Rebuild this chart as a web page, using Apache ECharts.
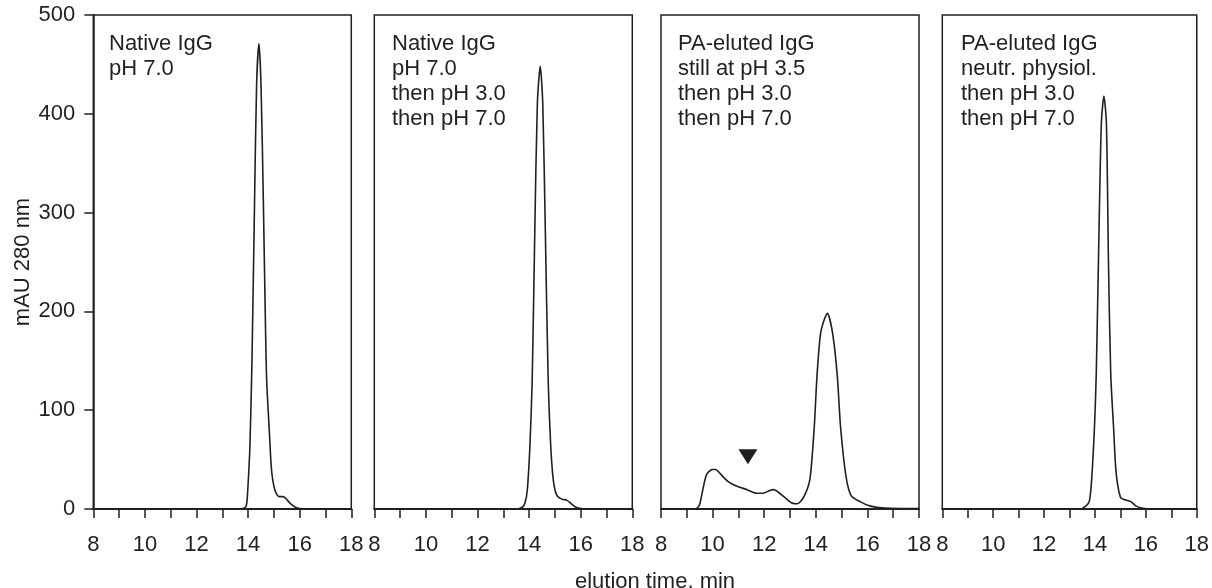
<!DOCTYPE html>
<html>
<head>
<meta charset="utf-8">
<title>IgG elution profiles</title>
<script src="https://cdn.jsdelivr.net/npm/echarts@6/dist/echarts.min.js"></script>
<style>
	html,body{margin:0;padding:0;background:#fff;}
	#chart{width:1212px;height:588px;}
</style>
</head>
<body>
<div id="chart"></div>
<script>
// panel captions
var panelText = [
	"Native IgG\npH 7.0",
	"Native IgG\npH 7.0\nthen pH 3.0\nthen pH 7.0",
	"PA-eluted IgG\nstill at pH 3.5\nthen pH 3.0\nthen pH 7.0",
	"PA-eluted IgG\nneutr. physiol.\nthen pH 3.0\nthen pH 7.0"
];
var xTicks = [8, 10, 12, 14, 16, 18];
var yTicks = [0, 100, 200, 300, 400, 500];

// [elution time (min), mAU 280 nm]
var nativeA = [[8,0],[13.5,0],[13.8,0.5],[13.9,2],[13.95,6],[14.0,25],[14.07,63],[14.15,150],[14.25,310],[14.33,430],[14.42,471],[14.5,430],[14.59,313],[14.67,190],[14.72,130],[14.82,80],[14.91,39],[15.04,19],[15.2,12.5],[15.35,12.5],[15.45,11],[15.62,6],[15.82,2],[16.0,0.5],[16.5,0],[18,0]];
var nativeB = [[8,0],[13.5,0],[13.75,2],[13.84,6],[13.93,19],[14.03,63],[14.12,130],[14.22,280],[14.32,410],[14.43,448],[14.53,410],[14.63,280],[14.74,130],[14.84,63],[14.94,29],[15.07,14],[15.26,10],[15.46,9],[15.65,5],[15.84,1.5],[16.1,0.3],[18,0]];
var paStill = [[8,0],[9.3,0],[9.4,1],[9.5,4.6],[9.64,22],[9.77,35],[9.98,40],[10.12,40],[10.32,35],[10.59,28],[10.94,23],[11.34,19.6],[11.69,16],[11.96,16],[12.2,18.5],[12.35,19.6],[12.5,18],[12.78,12],[13.05,6.4],[13.28,5.3],[13.53,12],[13.77,30],[13.94,83],[14.05,136],[14.2,180],[14.45,198],[14.65,178],[14.83,136],[14.96,83],[15.17,33],[15.37,13.5],[15.71,7.5],[16.12,2.9],[16.67,1],[18,0.5]];
var paNeutr = [[8,0],[13.4,0],[13.64,2.9],[13.78,8],[13.87,30],[13.98,83],[14.05,136],[14.15,270],[14.25,390],[14.35,418],[14.45,390],[14.53,250],[14.62,136],[14.73,83],[14.83,37],[15.0,12],[15.21,9],[15.41,7.5],[15.62,2.9],[15.89,0.7],[16.2,0],[18,0]];
var arrowMark = [[11.37, 53]];

var traces = [nativeA, nativeB, paStill, paNeutr];
var ink = "#231f20";
var fontFam = "'Liberation Sans', Arial, Helvetica, sans-serif";
var panelLeft = [93.3, 374.3, 661, 942.3];
var textLeft = [109, 392, 678, 961];

function buildOption(){
	var grids = [], xAxes = [], yAxes = [], series = [], titles = [];
	for(var i = 0; i < traces.length; i++){
		grids.push({
			left: panelLeft[i],
			width: 258,
			top: 15,
			height: 494,
			show: true,
			borderColor: ink,
			borderWidth: 1.5
		});
		xAxes.push({
			type: "value",
			gridIndex: i,
			min: xTicks[0],
			max: xTicks[xTicks.length - 1],
			interval: 2,
			axisLine: {show: true, lineStyle: {color: ink, width: 2}},
			axisTick: {show: true, length: 9, lineStyle: {color: ink, width: 1.5}},
			minorTick: {show: true, splitNumber: 2, length: 9, lineStyle: {color: ink, width: 1.5}},
			splitLine: {show: false},
			axisLabel: {
				margin: 25,
				fontSize: 22,
				fontFamily: fontFam,
				color: ink,
				showMinLabel: true,
				showMaxLabel: true
			}
		});
		yAxes.push({
			type: "value",
			gridIndex: i,
			min: yTicks[0],
			max: yTicks[yTicks.length - 1],
			interval: 100,
			name: i === 0 ? "mAU 280 nm" : "",
			nameLocation: "middle",
			nameGap: 59,
			nameTextStyle: {fontSize: 22, fontFamily: fontFam, color: ink},
			axisLine: {show: i === 0, lineStyle: {color: ink, width: 1.5}},
			axisTick: {show: i === 0, length: 9, lineStyle: {color: ink, width: 1.5}},
			splitLine: {show: false},
			axisLabel: {
				show: i === 0,
				margin: 18,
				fontSize: 22,
				fontFamily: fontFam,
				color: ink
			}
		});
		series.push({
			type: "line",
			xAxisIndex: i,
			yAxisIndex: i,
			data: traces[i],
			showSymbol: false,
			smooth: 0.25,
			lineStyle: {color: ink, width: 1.6},
			silent: true
		});
		titles.push({
			text: panelText[i],
			left: textLeft[i],
			top: 31,
			padding: 0,
			textStyle: {
				fontSize: 22,
				fontWeight: "normal",
				fontFamily: fontFam,
				color: ink,
				lineHeight: 25
			}
		});
	}
	// down-pointing marker in the third panel
	series.push({
		type: "scatter",
		xAxisIndex: 2,
		yAxisIndex: 2,
		data: arrowMark,
		symbol: "triangle",
		symbolRotate: 180,
		symbolSize: [19, 15],
		itemStyle: {color: ink, opacity: 1},
		silent: true
	});
	return {
		backgroundColor: "#fff",
		animation: false,
		title: titles,
		grid: grids,
		xAxis: xAxes,
		yAxis: yAxes,
		series: series,
		graphic: [{
			type: "text",
			x: 655,
			y: 582,
			style: {
				text: "elution time, min",
				fontSize: 22,
				fontFamily: fontFam,
				fill: ink,
				align: "center",
				verticalAlign: "middle"
			}
		}]
	};
}

var myChart = echarts.init(document.getElementById("chart"));
myChart.setOption(buildOption());
</script>
</body>
</html>
